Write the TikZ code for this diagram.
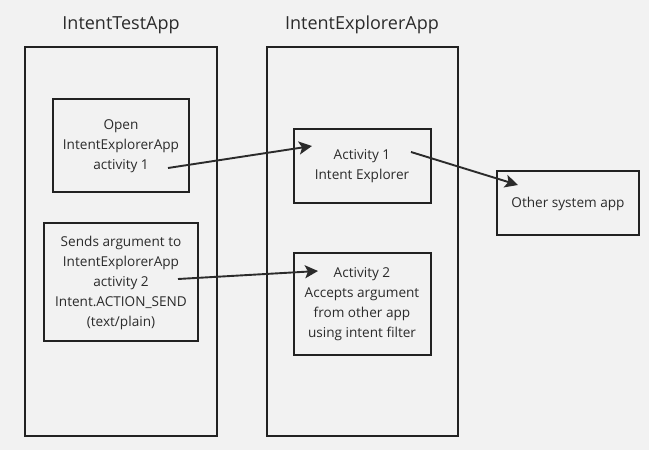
\documentclass[tikz,border=0pt]{standalone}
\usepackage{fontspec}
\setmainfont{Open Sans}
\usetikzlibrary{arrows.meta}
\definecolor{bg}{HTML}{F2F2F2}
\definecolor{ink}{HTML}{222222}
\definecolor{txt}{HTML}{2B2B2B}
\begin{document}
\begin{tikzpicture}[x=1pt,y=-1pt,
  box/.style={draw=ink,line width=1.8pt},
  inbox/.style={draw=ink,line width=1.6pt,fill=bg},
  body/.style={font=\fontsize{13.6}{20}\selectfont,text=txt,align=center},
  title/.style={font=\fontsize{18}{20}\selectfont,text=txt},
  conn/.style={draw=txt,line width=1.9pt,-{Stealth[length=13pt,width=13pt,inset=3pt]}}]
\fill[bg] (0,0) rectangle (649,450);
\useasboundingbox (0,0) rectangle (649,450);
% outer app boxes
\draw[box] (25,47) rectangle (217,436);
\draw[box] (267,47) rectangle (458,436);
\node[title] (t1) at (121,25) {IntentTestApp};
\node[title] (t2) at (362,25) {IntentExplorerApp};
% inner boxes
\draw[inbox] (53,99) rectangle (189,192);
\node[body] (a1) at (121,146) {Open\\IntentExplorerApp\\activity 1};
\draw[inbox] (44,223) rectangle (198,341);
\node[body] (a2) at (121,283) {Sends argument to\\IntentExplorerApp\\activity 2\\Intent.ACTION\_SEND\\(text/plain)};
\draw[inbox] (294,129) rectangle (431,203);
\node[body] (b1) at (362,166) {Activity 1\\Intent Explorer};
\draw[inbox] (294,253) rectangle (431,355);
\node[body] (b2) at (362,304) {Activity 2\\Accepts argument\\from other app\\using intent filter};
\draw[inbox] (497,171) rectangle (639,235);
\node[body] (c1) at (568,204) {Other system app};
% connector endpoints
\coordinate (s1) at (168,168);
\coordinate (e1) at (312,146);
\coordinate (s2) at (178,279);
\coordinate (e2) at (318,271);
\coordinate (s3) at (411,152);
\coordinate (e3) at (518,185);
\draw[conn] (s1) -- (e1);
\draw[conn] (s2) -- (e2);
\draw[conn] (s3) -- (e3);
\end{tikzpicture}
\end{document}
